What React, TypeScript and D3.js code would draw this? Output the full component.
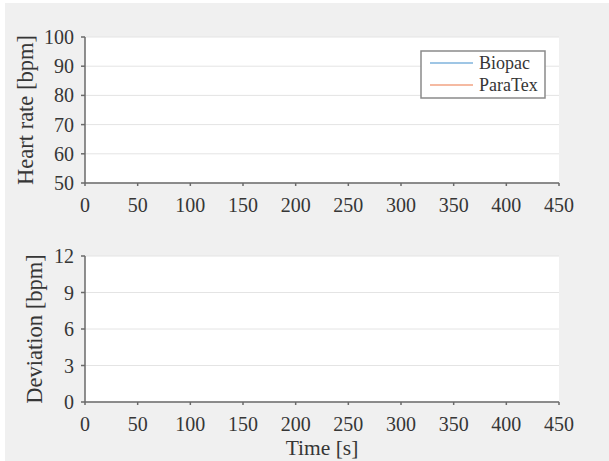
import React from "react";
import * as d3 from "d3";

const W = 609;
const H = 461;

// Data (no visible samples in the reference chart)
const timeSeconds: number[] = [];
const biopacBpm: number[] = [];
const paratexBpm: number[] = [];
const deviationBpm: number[] = [];

const xTicks = [0, 50, 100, 150, 200, 250, 300, 350, 400, 450];
const hrTicks = [50, 60, 70, 80, 90, 100];
const devTicks = [0, 3, 6, 9, 12];
const seriesNames = ["Biopac", "ParaTex"];
const seriesColors = ["#7fb3dc", "#f2a383"];

const FONT = "'Liberation Serif', 'Times New Roman', serif";
const TEXT = "#363636";
const AXIS = "#6a6a6a";
const GRID = "#e4e4e4";

const x = d3.scaleLinear().domain([0, 450]).range([85, 559]);
const yHr = d3.scaleLinear().domain([50, 100]).range([183, 37]);
const yDev = d3.scaleLinear().domain([0, 12]).range([402, 256]);

function Panel({ y, ticks, title, titleX }: { y: d3.ScaleLinear<number, number>; ticks: number[]; title: string; titleX: number }) {
  const [y0, y1] = y.range();
  return (
    <g>
      <rect x={x(0)} y={y1} width={x(450) - x(0)} height={y0 - y1} fill="#ffffff" />
      {ticks.map((t) => (
        <line key={"g" + t} x1={x(0)} x2={x(450)} y1={y(t)} y2={y(t)} stroke={GRID} strokeWidth={1} />
      ))}
      {/* y axis */}
      <line x1={x(0)} x2={x(0)} y1={y1} y2={y0} stroke={AXIS} strokeWidth={1.5} />
      {ticks.map((t) => (
        <g key={"yt" + t}>
          <line x1={x(0) - 4} x2={x(0)} y1={y(t)} y2={y(t)} stroke={AXIS} strokeWidth={1.5} />
          <text x={x(0) - 11} y={y(t)} dy="0.35em" textAnchor="end" fontFamily={FONT} fontSize={20} fill={TEXT}>
            {t}
          </text>
        </g>
      ))}
      {/* x axis */}
      <line x1={x(0)} x2={x(450)} y1={y0} y2={y0} stroke={AXIS} strokeWidth={1.5} />
      {xTicks.map((t) => (
        <g key={"xt" + t}>
          <line x1={x(t)} x2={x(t)} y1={y0} y2={y0 + 3} stroke={AXIS} strokeWidth={1.5} />
          <text x={x(t)} y={y0 + 29} textAnchor="middle" fontFamily={FONT} fontSize={20} fill={TEXT}>
            {t}
          </text>
        </g>
      ))}
      <text
        transform={`translate(${titleX},${(y0 + y1) / 2}) rotate(-90)`}
        textAnchor="middle"
        fontFamily={FONT}
        fontSize={22.5}
        fill={TEXT}
      >
        {title}
      </text>
    </g>
  );
}

export default function App() {
  const lineHr = d3
    .line<number>()
    .x((_, i) => x(timeSeconds[i]))
    .y((d) => yHr(d));
  const lineDev = d3
    .line<number>()
    .x((_, i) => x(timeSeconds[i]))
    .y((d) => yDev(d));

  return (
    <svg width={W} height={H} style={{ position: "absolute", left: 0, top: 0 }}>
      <rect x={0} y={0} width={W} height={H} fill="#ffffff" />
      <rect x={5} y={3} width={W - 5} height={H - 3} fill="#f0f0f0" />

      <Panel y={yHr} ticks={hrTicks} title="Heart rate [bpm]" titleX={33} />
      <Panel y={yDev} ticks={devTicks} title="Deviation [bpm]" titleX={42} />

      {biopacBpm.length > 0 && <path d={lineHr(biopacBpm) || ""} fill="none" stroke={seriesColors[0]} strokeWidth={1.2} />}
      {paratexBpm.length > 0 && <path d={lineHr(paratexBpm) || ""} fill="none" stroke={seriesColors[1]} strokeWidth={1.2} />}
      {deviationBpm.length > 0 && <path d={lineDev(deviationBpm) || ""} fill="none" stroke={seriesColors[1]} strokeWidth={1.2} />}

      {/* legend */}
      <rect x={421} y={51} width={124} height={47} fill="#ffffff" stroke="#8a8a8a" strokeWidth={1.5} />
      {seriesNames.map((n, i) => (
        <g key={n}>
          <line x1={430} x2={473} y1={63 + i * 22} y2={63 + i * 22} stroke={seriesColors[i]} strokeWidth={1.5} />
          <text x={479} y={63 + i * 22} dy="0.33em" fontFamily={FONT} fontSize={18} fill={TEXT}>
            {n}
          </text>
        </g>
      ))}

      <text x={(x(0) + x(450)) / 2} y={455} textAnchor="middle" fontFamily={FONT} fontSize={21.5} fill={TEXT}>
        Time [s]
      </text>
    </svg>
  );
}
